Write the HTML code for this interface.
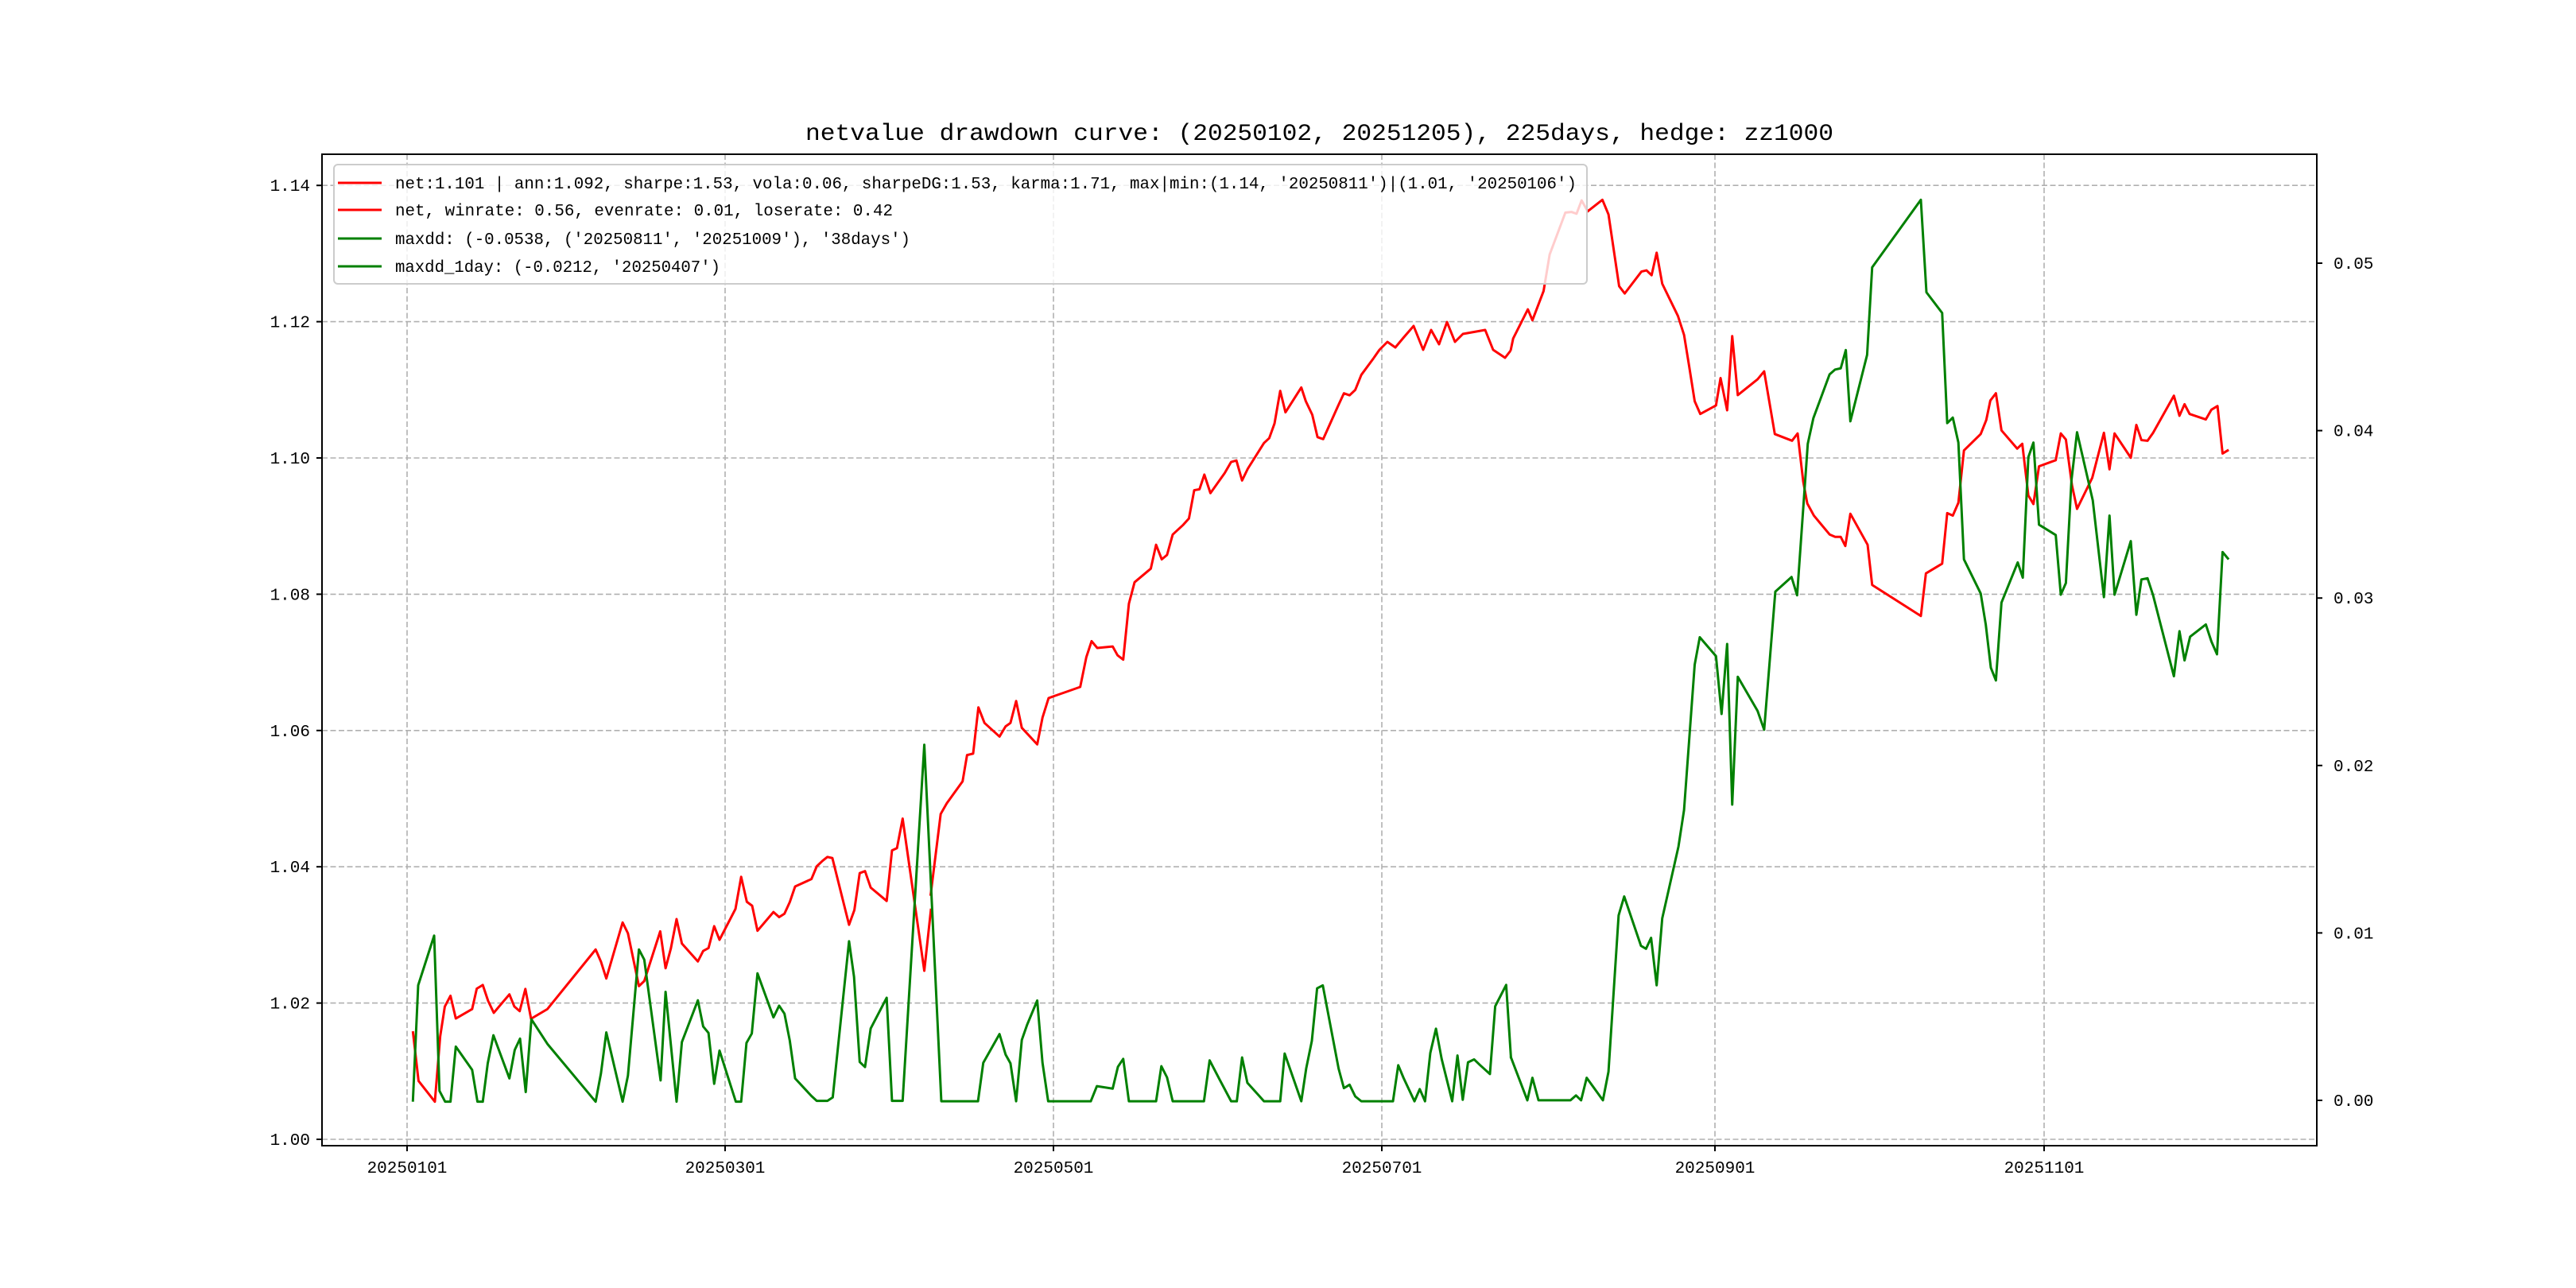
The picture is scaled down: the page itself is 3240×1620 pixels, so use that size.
<!DOCTYPE html>
<html><head><meta charset="utf-8"><style>html,body{margin:0;padding:0;background:#fff}svg{display:block}</style></head>
<body>
<svg width="3240" height="1620" viewBox="0 0 3240 1620" xmlns="http://www.w3.org/2000/svg" font-family="'Liberation Mono', monospace">
<rect width="3240" height="1620" fill="#fff"/>
<g stroke="#b0b0b0" stroke-width="1.6" stroke-dasharray="7,3.5" fill="none">
<line x1="405" x2="2914" y1="1433" y2="1433"/><line x1="405" x2="2914" y1="1261.6" y2="1261.6"/><line x1="405" x2="2914" y1="1090.2" y2="1090.2"/><line x1="405" x2="2914" y1="918.8" y2="918.8"/><line x1="405" x2="2914" y1="747.4" y2="747.4"/><line x1="405" x2="2914" y1="576" y2="576"/><line x1="405" x2="2914" y1="404.6" y2="404.6"/><line x1="405" x2="2914" y1="233.2" y2="233.2"/>
<line y1="194" y2="1441" x1="512" x2="512"/><line y1="194" y2="1441" x1="912" x2="912"/><line y1="194" y2="1441" x1="1325" x2="1325"/><line y1="194" y2="1441" x1="1738" x2="1738"/><line y1="194" y2="1441" x1="2157" x2="2157"/><line y1="194" y2="1441" x1="2571" x2="2571"/>
</g>
<g fill="none" stroke="#ff0000" stroke-width="3" stroke-linejoin="round">
<polyline vector-effect="non-scaling-stroke" transform="translate(480,850) scale(0.4464,0.3571)" points="88,1252 104,1427 150,1500 165,1270 178,1165 194,1127 209,1207 255,1174 268,1102 285,1089 300,1145 316,1187 360,1122 374,1165 389,1181 405,1103 421,1208 467,1174 603,964 618,1007 633,1066 679,869 694,907 725,1093 740,1075 785,900 800,1030 815,960 831,857 846,943 891,1006 906,969 921,959 937,882 952,930 997,821 1013,708 1029,796 1044,810 1059,898 1104,832 1120,850 1135,838 1150,797 1165,742 1211,716 1226,671 1242,652 1256,638 1270,642 1317,877 1332,825 1347,695 1362,688 1378,746 1423,793 1438,615 1452,607 1468,503 1529,1039 1548,820"/>
<polyline vector-effect="non-scaling-stroke" transform="translate(1150,450) scale(0.5102,0.6124)" points="40,1105 65,937 80,915 119,870 130,816 145,813 158,718 173,750 210,778 225,757 237,750 251,705 265,760 303,794 316,739 331,699 344,695 375,686 409,676 424,615 437,582 451,596 489,593 501,611 515,620 529,505 543,461 583,433 596,384 610,414 623,405 637,363 663,343 677,330 690,272 703,270 715,240 730,278 765,237 781,214 794,211 808,252 822,228 862,175 875,165 888,135 902,68 915,112 954,61 965,89 981,117 994,163 1008,167 1044,100 1059,73 1073,77 1087,66 1102,35 1133,0"/>
<polyline points="1728,450 1735,440 1745,430 1755,437 1765,425 1778,410 1790,440 1800,415 1810,433 1820,405 1830,430 1840,420 1868,415 1878,440 1893,450 1900,441"/>
<polyline vector-effect="non-scaling-stroke" transform="translate(1900,200) scale(0.6378,0.7653)" points="0,315 5,295 34,247 43,265 65,217 77,157 108,88 120,87 130,90 140,68 152,86 181,67 193,91 214,209 225,221 258,185 268,183 278,191 288,154 299,205 330,258 342,289 352,340 363,398 374,419 405,405 414,360 427,413 437,291 448,388 487,362 500,349 521,452 555,463 566,451 577,530 585,566 598,586 629,617 640,621 651,621 660,636 670,583 704,634 713,700 809,751 819,681 851,665 861,582 872,586 883,565 894,479 927,452 938,429 946,397 957,385 968,446 999,476 1009,468 1021,553 1031,567 1042,505 1075,495 1085,451 1095,461 1107,536 1117,575 1147,524 1170,450 1181,510 1191,451 1223,491 1234,437 1244,462 1256,463 1267,450 1308,389 1319,422 1329,403 1339,419 1371,428 1382,412 1394,406 1404,484 1416,478"/>
</g>
<g fill="none" stroke="#008000" stroke-width="3" stroke-linejoin="round">
<polyline vector-effect="non-scaling-stroke" transform="translate(480,850) scale(0.4464,0.3571)" points="88,1500 103,1090 148,915 163,1462 179,1500 194,1500 209,1306 255,1388 270,1500 285,1500 299,1365 315,1266 360,1418 375,1318 390,1278 406,1466 422,1210 468,1298 603,1500 618,1400 633,1256 679,1500 694,1408 725,964 740,1000 786,1425 800,1113 831,1500 846,1290 891,1143 906,1235 921,1258 937,1437 952,1320 998,1500 1013,1500 1028,1293 1043,1260 1059,1048 1104,1203 1120,1162 1135,1190 1150,1285 1165,1418 1211,1480 1226,1497 1256,1497 1271,1485 1317,935 1331,1060 1347,1360 1362,1378 1378,1242 1423,1134 1438,1497 1468,1497 1529,243 1577,1500"/>
<polyline vector-effect="non-scaling-stroke" transform="translate(1150,450) scale(0.5102,0.6124)" points="65,1527 157,1527 170,1448 210,1389 225,1431 237,1449 251,1527 265,1401 278,1370 303,1320 316,1448 330,1527 435,1527 450,1496 489,1501 502,1456 515,1440 529,1527 596,1527 609,1455 623,1478 637,1527 714,1527 728,1443 753,1483 781,1527 795,1527 808,1437 821,1489 848,1514 862,1527 902,1527 913,1429 954,1527 966,1460 980,1403 993,1295 1007,1289 1046,1460 1059,1500 1073,1493 1087,1517 1102,1527 1180,1527 1193,1453 1206,1479 1233,1527 1246,1502 1259,1527 1272,1428 1286,1378 1300,1440 1326,1527 1339,1433 1352,1524 1365,1447 1380,1441 1395,1453 1419,1471 1432,1332 1459,1288 1471,1439"/>
<polyline vector-effect="non-scaling-stroke" transform="translate(1900,200) scale(0.6378,0.7653)" points="0,1475 33,1547 43,1510 55,1547 118,1547 129,1539 139,1547 150,1510 182,1547 193,1500 213,1243 224,1212 257,1293 267,1298 277,1280 288,1358 299,1248 331,1130 342,1070 363,831 373,786 405,817 416,912 427,797 437,1061 448,851 487,907 500,938 522,711 554,687 565,717 586,468 597,426 629,354 640,346 651,344 661,314 670,431 703,322 713,178 809,67 820,219 851,253 861,434 872,425 883,466 894,658 927,714 937,765 947,836 957,857 968,729 1000,663 1010,688 1021,490 1031,466 1042,601 1075,618 1085,716 1095,697 1106,528 1117,449 1148,561 1170,720 1181,586 1191,716 1223,628 1234,749 1244,691 1256,689 1267,717 1308,850 1319,776 1329,824 1340,785 1371,765 1382,793 1393,814 1404,646 1416,658"/>
</g>
<rect x="405" y="194" width="2509" height="1247" fill="none" stroke="#000" stroke-width="2"/>
<g stroke="#000" stroke-width="2">
<line x1="398" x2="405" y1="1433" y2="1433"/><line x1="398" x2="405" y1="1261.6" y2="1261.6"/><line x1="398" x2="405" y1="1090.2" y2="1090.2"/><line x1="398" x2="405" y1="918.8" y2="918.8"/><line x1="398" x2="405" y1="747.4" y2="747.4"/><line x1="398" x2="405" y1="576" y2="576"/><line x1="398" x2="405" y1="404.6" y2="404.6"/><line x1="398" x2="405" y1="233.2" y2="233.2"/>
<line x1="2914" x2="2921" y1="1384" y2="1384"/><line x1="2914" x2="2921" y1="1173.4" y2="1173.4"/><line x1="2914" x2="2921" y1="962.8" y2="962.8"/><line x1="2914" x2="2921" y1="752.2" y2="752.2"/><line x1="2914" x2="2921" y1="541.6" y2="541.6"/><line x1="2914" x2="2921" y1="331" y2="331"/>
<line y1="1441" y2="1448" x1="512" x2="512"/><line y1="1441" y2="1448" x1="912" x2="912"/><line y1="1441" y2="1448" x1="1325" x2="1325"/><line y1="1441" y2="1448" x1="1738" x2="1738"/><line y1="1441" y2="1448" x1="2157" x2="2157"/><line y1="1441" y2="1448" x1="2571" x2="2571"/>
</g>
<g font-size="21" fill="#000">
<g text-anchor="end">
<text x="390" y="1440">1.00</text><text x="390" y="1268.6">1.02</text><text x="390" y="1097.2">1.04</text><text x="390" y="925.8">1.06</text><text x="390" y="754.4">1.08</text><text x="390" y="583">1.10</text><text x="390" y="411.6">1.12</text><text x="390" y="240.2">1.14</text>
</g>
<text x="2935" y="1391">0.00</text><text x="2935" y="1180.4">0.01</text><text x="2935" y="969.8">0.02</text><text x="2935" y="759.2">0.03</text><text x="2935" y="548.6">0.04</text><text x="2935" y="338">0.05</text>
<g text-anchor="middle">
<text x="512" y="1475">20250101</text><text x="912" y="1475">20250301</text><text x="1325" y="1475">20250501</text><text x="1738" y="1475">20250701</text><text x="2157" y="1475">20250901</text><text x="2571" y="1475">20251101</text>
</g>
</g>
<text x="1013" y="176" font-size="30" textLength="1293" lengthAdjust="spacingAndGlyphs">netvalue drawdown curve: (20250102, 20251205), 225days, hedge: zz1000</text>
<rect x="420" y="207" width="1576" height="150" rx="5" fill="#fff" fill-opacity="0.8" stroke="#cccccc" stroke-width="2"/>
<g stroke-width="3">
<line x1="425" x2="480" y1="230" y2="230" stroke="#ff0000"/>
<line x1="425" x2="480" y1="264" y2="264" stroke="#ff0000"/>
<line x1="425" x2="480" y1="300" y2="300" stroke="#008000"/>
<line x1="425" x2="480" y1="335" y2="335" stroke="#008000"/>
</g>
<g font-size="21" fill="#000">
<text x="497" y="237" textLength="1486" lengthAdjust="spacingAndGlyphs">net:1.101 | ann:1.092, sharpe:1.53, vola:0.06, sharpeDG:1.53, karma:1.71, max|min:(1.14, '20250811')|(1.01, '20250106')</text>
<text x="497" y="271" textLength="626" lengthAdjust="spacingAndGlyphs">net, winrate: 0.56, evenrate: 0.01, loserate: 0.42</text>
<text x="497" y="307" textLength="648" lengthAdjust="spacingAndGlyphs">maxdd: (-0.0538, ('20250811', '20251009'), '38days')</text>
<text x="497" y="342" textLength="409" lengthAdjust="spacingAndGlyphs">maxdd_1day: (-0.0212, '20250407')</text>
</g>
</svg>
</body></html>
